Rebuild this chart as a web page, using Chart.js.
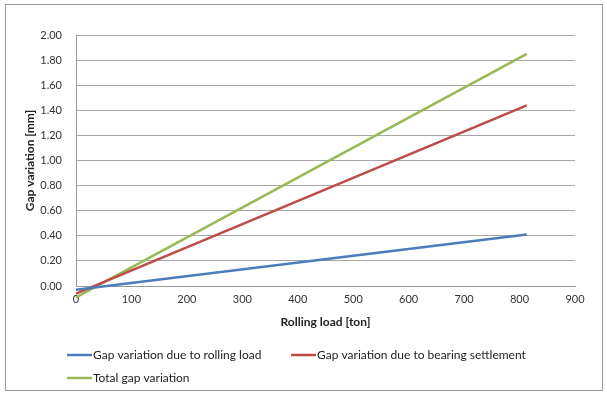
<!DOCTYPE html>
<html>
<head>
<meta charset="utf-8">
<script src="https://cdn.jsdelivr.net/npm/chart.js@4.4.1/dist/chart.umd.min.js"></script>
<style>
html,body{margin:0;padding:0;background:#fff;}
#wrap{position:relative;width:607px;height:395px;}
</style>
</head>
<body>
<div id="wrap"><canvas id="c" width="607" height="395"></canvas></div>
<script>
const xTicks = [0, 100, 200, 300, 400, 500, 600, 700, 800, 900];
const yTicks = [0.00, 0.20, 0.40, 0.60, 0.80, 1.00, 1.20, 1.40, 1.60, 1.80, 2.00];
const rollingLoad = [0, 813];
const gapRolling = [-0.03, 0.41];
const gapBearing = [-0.06, 1.44];
const gapTotal = [-0.09, 1.85];
const seriesNames = ["Gap variation due to rolling load", "Gap variation due to bearing settlement", "Total gap variation"];
const seriesColors = ["#4a7ebb", "#be4b48", "#98b954"];
const xTitle = "Rolling load [ton]";
const yTitle = "Gap variation [mm]";

const FONT = "Lato, 'Open Sans', sans-serif";
const toPts = (ys) => rollingLoad.map((x, i) => ({x: x, y: ys[i]}));

const frameAndLegend = {
  id: 'frameAndLegend',
  afterDraw(chart) {
    const ctx = chart.ctx;
    ctx.save();
    ctx.strokeStyle = '#9a9a9a';
    ctx.lineWidth = 1;
    ctx.strokeRect(5.5, 4.5, 597, 386);
    const items = [
      {x: 67, y: 355},
      {x: 291, y: 355},
      {x: 67, y: 378}
    ];
    ctx.font = "12px " + FONT;
    ctx.textBaseline = 'middle';
    ctx.textAlign = 'left';
    chart.data.datasets.forEach((ds, i) => {
      const it = items[i];
      ctx.strokeStyle = ds.borderColor;
      ctx.lineWidth = 2.5;
      ctx.beginPath();
      ctx.moveTo(it.x, it.y);
      ctx.lineTo(it.x + 25, it.y);
      ctx.stroke();
      ctx.fillStyle = '#222';
      ctx.fillText(ds.label, it.x + 26, it.y);
    });
    ctx.restore();
  }
};

new Chart(document.getElementById('c'), {
  type: 'line',
  data: {
    datasets: [
      {label: seriesNames[0], data: toPts(gapRolling), borderColor: seriesColors[0]},
      {label: seriesNames[1], data: toPts(gapBearing), borderColor: seriesColors[1]},
      {label: seriesNames[2], data: toPts(gapTotal), borderColor: seriesColors[2]}
    ].map(d => Object.assign(d, {borderWidth: 2.5, pointRadius: 0, fill: false, tension: 0, clip: false}))
  },
  options: {
    responsive: false,
    animation: false,
    layout: {padding: {left: 0, right: 32, top: 35, bottom: 0}},
    plugins: {legend: {display: false}, tooltip: {enabled: false}},
    scales: {
      x: {
        type: 'linear',
        min: xTicks[0],
        max: xTicks[xTicks.length - 1],
        afterBuildTicks: (s) => { s.ticks = xTicks.map(v => ({value: v})); },
        grid: {display: false, drawTicks: false},
        border: {display: true, color: '#9a9a9a', width: 1},
        ticks: {padding: 7, color: '#333', font: {family: FONT, size: 11}, maxRotation: 0},
        title: {display: true, text: xTitle, color: '#222', font: {family: FONT, size: 12, weight: 'bold'}, padding: {top: 0, bottom: 66}},
        afterFit: (s) => { s.height = 109; }
      },
      y: {
        type: 'linear',
        min: yTicks[0],
        max: yTicks[yTicks.length - 1],
        afterBuildTicks: (s) => { s.ticks = yTicks.map(v => ({value: v})); },
        grid: {color: '#a6a6a6', lineWidth: 1, drawTicks: false},
        border: {display: true, color: '#9a9a9a', width: 1},
        ticks: {padding: 14, color: '#333', font: {family: FONT, size: 11}, callback: (v) => Number(v).toFixed(2)},
        title: {display: true, text: yTitle, color: '#222', font: {family: FONT, size: 12, weight: 'bold'}, padding: {top: 23, bottom: 0}},
        afterFit: (s) => { s.width = 76; }
      }
    }
  },
  plugins: [frameAndLegend]
});
</script>
</body>
</html>
